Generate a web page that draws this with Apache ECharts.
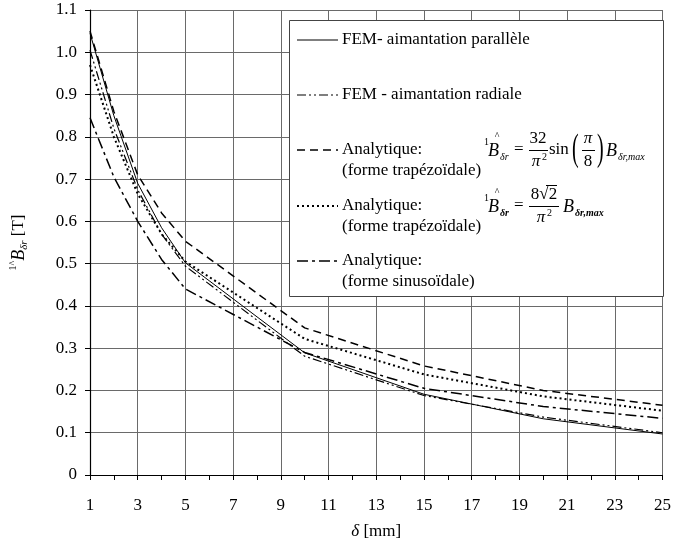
<!DOCTYPE html>
<html>
<head>
<meta charset="utf-8">
<script src="https://cdn.jsdelivr.net/npm/echarts@6/dist/echarts.min.js"></script>
<style>
  html, body { margin: 0; padding: 0; background: #fff; }
  #chart { width: 674px; height: 545px; }
</style>
</head>
<body>
<div id="chart"></div>
<script>
// Air-gap width δ [mm] : category ticks and the sampled points
const deltaCategories = ['1','2','3','4','5','6','7','8','9','10','11','12','13',
  '14','15','16','17','18','19','20','21','22','23','24','25'];
const deltaPoints = [1, 2, 3, 4, 5, 10, 15, 20, 25];

// Fundamental of the radial air-gap flux density [T]
const femParallel   = [1.045, 0.850, 0.690, 0.585, 0.502, 0.289, 0.191, 0.133, 0.097];
const femRadial     = [1.005, 0.820, 0.675, 0.570, 0.494, 0.281, 0.188, 0.137, 0.100];
const analyticTrap1 = [1.050, 0.860, 0.710, 0.620, 0.553, 0.348, 0.258, 0.200, 0.165];
const analyticTrap2 = [0.970, 0.800, 0.665, 0.570, 0.505, 0.322, 0.238, 0.186, 0.152];
const analyticSinus = [0.845, 0.705, 0.600, 0.510, 0.440, 0.290, 0.205, 0.162, 0.134];

const legendLines = [
  ['FEM- aimantation parallèle'],
  ['FEM - aimantation radiale'],
  ['Analytique:', '(forme trapézoïdale)'],
  ['Analytique:', '(forme trapézoïdale)'],
  ['Analytique:', '(forme sinusoïdale)']
];

const SERIF = '"Liberation Serif", "Times New Roman", serif';

// line appearance for each curve (same order as legendLines)
const curveStyles = [
  { width: 1.0, dash: 'solid' },
  { width: 1.2, dash: [9, 3, 2, 3, 2, 3] },
  { width: 1.5, dash: [8, 5] },
  { width: 2.0, dash: [2, 3] },
  { width: 1.5, dash: [11, 4, 3, 4] }
];
const curveValues = [femParallel, femRadial, analyticTrap1, analyticTrap2, analyticSinus];

const series = curveValues.map((vals, k) => ({
  type: 'line',
  name: legendLines[k].join(' ') + ' #' + (k + 1),
  data: deltaPoints.map((d, i) => [String(d), vals[i]]),
  symbol: 'none',
  silent: true,
  z: 3,
  lineStyle: { color: '#000', width: curveStyles[k].width, type: curveStyles[k].dash }
}));

const TOP_Z = 100;

// ---- legend box drawn as graphics ----
const legendRowY = [40, 95, 150, 206, 261];
const legendItems = [];
legendItems.push({
  type: 'rect', z: TOP_Z - 1,
  shape: { x: 289.5, y: 20.5, width: 374, height: 276 },
  style: { fill: '#fff', stroke: '#444', lineWidth: 1 }
});
legendLines.forEach((lines, k) => {
  const y = legendRowY[k];
  const st = curveStyles[k];
  legendItems.push({
    type: 'line', z: TOP_Z,
    shape: { x1: 297, y1: y, x2: 338, y2: y },
    style: {
      stroke: '#000',
      lineWidth: st.width,
      lineDash: st.dash === 'solid' ? null : st.dash
    }
  });
  lines.forEach((txt, j) => {
    legendItems.push({
      type: 'text', z: TOP_Z,
      style: {
        text: txt, x: 342, y: y + j * 20.5,
        font: '17px ' + SERIF, fill: '#000',
        textAlign: 'left', textVerticalAlign: 'middle'
      }
    });
  });
});

function tx(text, x, y, size, opts) {
  opts = opts || {};
  const scaled = !!opts.scaleY;
  return {
    type: 'text',
    z: TOP_Z,
    scaleY: opts.scaleY || 1,
    x: scaled ? x : 0,
    y: scaled ? y : 0,
    style: {
      text: text,
      x: scaled ? 0 : x,
      y: scaled ? 0 : y,
      font: (opts.italic ? 'italic ' : '') + (opts.bold ? 'bold ' : '') + size + 'px ' + SERIF,
      fill: '#000',
      textAlign: opts.align || 'left',
      textVerticalAlign: 'middle'
    }
  };
}
function bar(x1, x2, y) {
  return { type: 'line', z: TOP_Z, shape: { x1: x1, y1: y, x2: x2, y2: y }, style: { stroke: '#000', lineWidth: 1 } };
}

// formula: 1B^ = 32/pi^2 sin(pi/8) B_dr,max
const F1 = legendRowY[2];
const formula1 = [
  tx('1', 484, F1 - 8, 10),
  tx('^', 497, F1 - 14, 10, { align: 'center' }),
  tx('B', 488, F1 + 1, 18, { italic: true }),
  tx('δr', 500, F1 + 7, 10, { italic: true }),
  tx('=', 514, F1, 17),
  tx('32', 538, F1 - 11, 17, { align: 'center' }),
  bar(529, 548, F1 + 0.5),
  tx('π', 536, F1 + 12, 17, { italic: true, align: 'center' }),
  tx('2', 542, F1 + 7, 10),
  tx('sin', 549, F1, 17),
  tx('(', 572, F1, 20, { scaleY: 1.9 }),
  tx('π', 588, F1 - 11, 17, { italic: true, align: 'center' }),
  bar(582, 595, F1 + 0.5),
  tx('8', 588, F1 + 12, 17, { align: 'center' }),
  tx(')', 597, F1, 20, { scaleY: 1.9 }),
  tx('B', 606, F1 + 1, 18, { italic: true }),
  tx('δr,max', 618, F1 + 7, 10, { italic: true })
];

// formula: 1B^ = 8*sqrt(2)/pi^2 B_dr,max
const F2 = legendRowY[3];
const formula2 = [
  tx('1', 484, F2 - 8, 10),
  tx('^', 497, F2 - 14, 10, { align: 'center' }),
  tx('B', 488, F2 + 1, 18, { italic: true }),
  tx('δr', 500, F2 + 7, 10, { italic: true, bold: true }),
  tx('=', 514, F2, 17),
  tx('8√2', 544, F2 - 11, 17, { align: 'center' }),
  bar(546, 557, F2 - 20.5),
  bar(529, 559, F2 + 0.5),
  tx('π', 541, F2 + 12, 17, { italic: true, align: 'center' }),
  tx('2', 547, F2 + 7, 10),
  tx('B', 563, F2 + 1, 18, { italic: true }),
  tx('δr,max', 575, F2 + 7, 10, { italic: true, bold: true })
];

const chart = echarts.init(document.getElementById('chart'), null, { renderer: 'canvas' });
chart.setOption({
  animation: false,
  backgroundColor: '#fff',
  grid: { left: 90, right: 7, top: 10, bottom: 69, containLabel: false },
  xAxis: {
    type: 'category',
    data: deltaCategories,
    boundaryGap: false,
    name: '{i|δ} [mm]',
    nameLocation: 'middle',
    nameGap: 48,
    nameTextStyle: {
      fontFamily: SERIF, fontSize: 17, color: '#000',
      rich: { i: { fontStyle: 'italic', fontSize: 17 } }
    },
    axisLine: { lineStyle: { color: '#000', width: 1.2 } },
    axisTick: { interval: 0, length: 5, lineStyle: { color: '#000' } },
    axisLabel: {
      interval: 1, margin: 22, showMaxLabel: true,
      fontFamily: SERIF, fontSize: 17, color: '#000'
    },
    splitLine: { show: true, interval: 1, lineStyle: { color: '#6a6a6a', width: 1 } }
  },
  yAxis: {
    type: 'value',
    min: 0, max: 1.1, interval: 0.1,
    name: '{s|1}{h|^}{b|B}{d|δr}{n| [T]}',
    nameLocation: 'middle',
    nameGap: 60,
    nameTextStyle: {
      fontFamily: SERIF, fontSize: 17, color: '#000',
      padding: [0, 0, 0, 0],
      rich: {
        s: { fontSize: 10, verticalAlign: 'top', lineHeight: 11 },
        h: { fontSize: 10, verticalAlign: 'top', lineHeight: 11 },
        b: { fontSize: 18, fontStyle: 'italic', lineHeight: 22 },
        d: { fontSize: 11, fontStyle: 'italic', verticalAlign: 'bottom', lineHeight: 12 },
        n: { fontSize: 17, lineHeight: 22 }
      }
    },
    axisLine: { show: true, lineStyle: { color: '#000', width: 1.2 } },
    axisTick: { show: true, length: 5, lineStyle: { color: '#000' } },
    axisLabel: {
      margin: 13, fontFamily: SERIF, fontSize: 17, color: '#000',
      formatter: v => (Math.abs(v) < 1e-9 ? '0' : v.toFixed(1))
    },
    splitLine: { show: true, lineStyle: { color: '#6a6a6a', width: 1 } }
  },
  graphic: legendItems.concat(formula1, formula2),
  series: series
});
</script>
</body>
</html>
